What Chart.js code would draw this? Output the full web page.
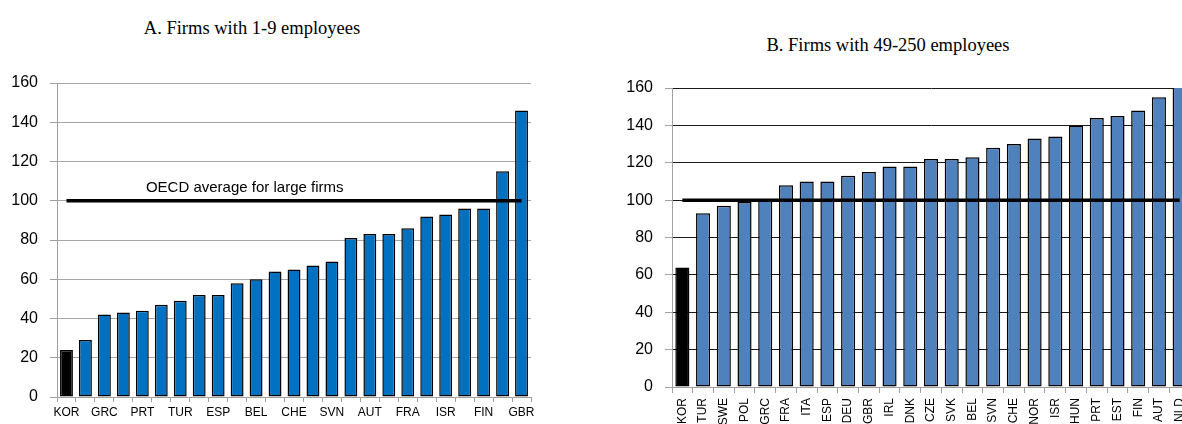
<!DOCTYPE html>
<html lang="en">
<head>
<meta charset="UTF-8">
<title>Firms by size</title>
<style>
  html, body { margin: 0; padding: 0; background: #fff; overflow: hidden; width: 1182px; height: 424px; }
  .title { position: absolute; font-family: "Liberation Serif", "Times New Roman", serif; font-size: 18.5px; color: #000; white-space: nowrap; transform: translateX(-50%); }
  #titleA { left: 252px; top: 18px; }
  #titleB { left: 888px; top: 35px; }
  #wrapA { position: absolute; left: 0; top: 0; width: 560px; height: 424px; }
  #wrapB { position: absolute; left: 612px; top: 0; width: 600px; height: 440px; }
</style>
</head>
<body>
<div class="title" id="titleA">A. Firms with 1-9 employees</div>
<div class="title" id="titleB">B. Firms with 49-250 employees</div>
<div id="wrapA"><canvas id="chartA"></canvas></div>
<div id="wrapB"><canvas id="chartB"></canvas></div>

<script src="https://cdn.jsdelivr.net/npm/chart.js"></script>
<script>
// panel A: firms with 1-9 employees (only every other country is labelled)
const catsA = ['KOR', '', 'GRC', '', 'PRT', '', 'TUR', '', 'ESP', '', 'BEL', '', 'CHE', '',
               'SVN', '', 'AUT', '', 'FRA', '', 'ISR', '', 'FIN', '', 'GBR'];
const valsA = [24, 29, 42, 43, 44, 47, 49, 52, 52, 58, 60, 64, 65, 67, 69,
               81, 83, 83, 86, 92, 93, 96, 96, 115, 146];

// panel B: firms with 49-250 employees
const catsB = ['KOR', 'TUR', 'SWE', 'POL', 'GRC', 'FRA', 'ITA', 'ESP', 'DEU', 'GBR', 'IRL', 'DNK', 'CZE',
               'SVK', 'BEL', 'SVN', 'CHE', 'NOR', 'ISR', 'HUN', 'PRT', 'EST', 'FIN', 'AUT', 'NLD'];
const valsB = [64, 93, 97, 99, 100, 108, 110, 110, 113, 115, 118, 118, 122,
               122, 123, 128, 130, 133, 134, 140, 144, 145, 148, 155, 165];

const oecdLarge = 100;
const yTicks = [0, 20, 40, 60, 80, 100, 120, 140, 160];
const noteText = 'OECD average for large firms';
const notePos = { x: 9.4, y: 106.5 };

const tickFont = { family: '"Liberation Sans", Arial, sans-serif', size: 16 };
const catFont = { family: '"Liberation Sans", Arial, sans-serif', size: 12 };

function barColors(cats, blue) {
  return cats.map(c => c === 'KOR' ? '#000000' : blue);
}

const noteLabel = {
  id: 'noteLabel',
  afterDatasetsDraw(chart) {
    if (chart.canvas.id !== 'chartA') return;
    const ctx = chart.ctx;
    const x = chart.scales.x.getPixelForValue(notePos.x);
    const y = chart.scales.y.getPixelForValue(notePos.y);
    ctx.save();
    ctx.font = '15px "Liberation Sans", Arial, sans-serif';
    ctx.fillStyle = '#000';
    ctx.textAlign = 'center';
    ctx.textBaseline = 'middle';
    ctx.fillText(noteText, x, y);
    ctx.restore();
  }
};

function makeChart(id, cats, vals, blue, opts) {
  return new Chart(document.getElementById(id), {
    data: {
      labels: cats,
      datasets: [
        { type: 'line', data: cats.map(() => oecdLarge), borderColor: '#000', borderWidth: 3.5,
          pointRadius: 0, fill: false, order: 0 },
        { type: 'bar', data: vals, backgroundColor: barColors(cats, blue), borderColor: '#000',
          borderWidth: 1.5, borderSkipped: false, barPercentage: opts.barPct, categoryPercentage: 1, order: 1 }
      ]
    },
    options: {
      responsive: true,
      maintainAspectRatio: false,
      animation: false,
      layout: { padding: opts.padding },
      plugins: { legend: { display: false }, tooltip: { enabled: false } },
      scales: {
        x: {
          grid: { display: true, drawOnChartArea: false, color: '#a0a0a0', tickLength: opts.xTick, offset: true },
          border: { color: '#a0a0a0' },
          ticks: {
            font: catFont, color: '#000', autoSkip: false, padding: opts.xPad,
            minRotation: opts.rot, maxRotation: opts.rot,
            callback: (v, i) => cats[i]
          },
          afterFit: s => { s.height = opts.xHeight; }
        },
        y: {
          min: 0, max: 160,
          afterBuildTicks: s => { s.ticks = yTicks.map(v => ({ value: v })); },
          grid: { color: opts.gridColor, tickColor: '#a0a0a0', tickLength: 7, lineWidth: 1 },
          border: { color: '#a0a0a0' },
          ticks: { font: tickFont, color: '#000', padding: 12 },
          afterFit: s => { s.width = opts.yWidth; }
        }
      }
    },
    plugins: [noteLabel]
  });
}

makeChart('chartA', catsA, valsA, '#0070C0', {
  barPct: 0.68, padding: { top: 83, right: 29, bottom: 0, left: 0 },
  xTick: 5, xPad: 3, rot: 0, xHeight: 27, yWidth: 57, gridColor: '#a6a6a6'
});

makeChart('chartB', catsB, valsB, '#4F81BD', {
  barPct: 0.68, padding: { top: 88, right: 22, bottom: 0, left: 0 },
  xTick: 6, xPad: 5, rot: 90, xHeight: 53, yWidth: 60, gridColor: '#1a1a1a'
});
</script>
</body>
</html>
